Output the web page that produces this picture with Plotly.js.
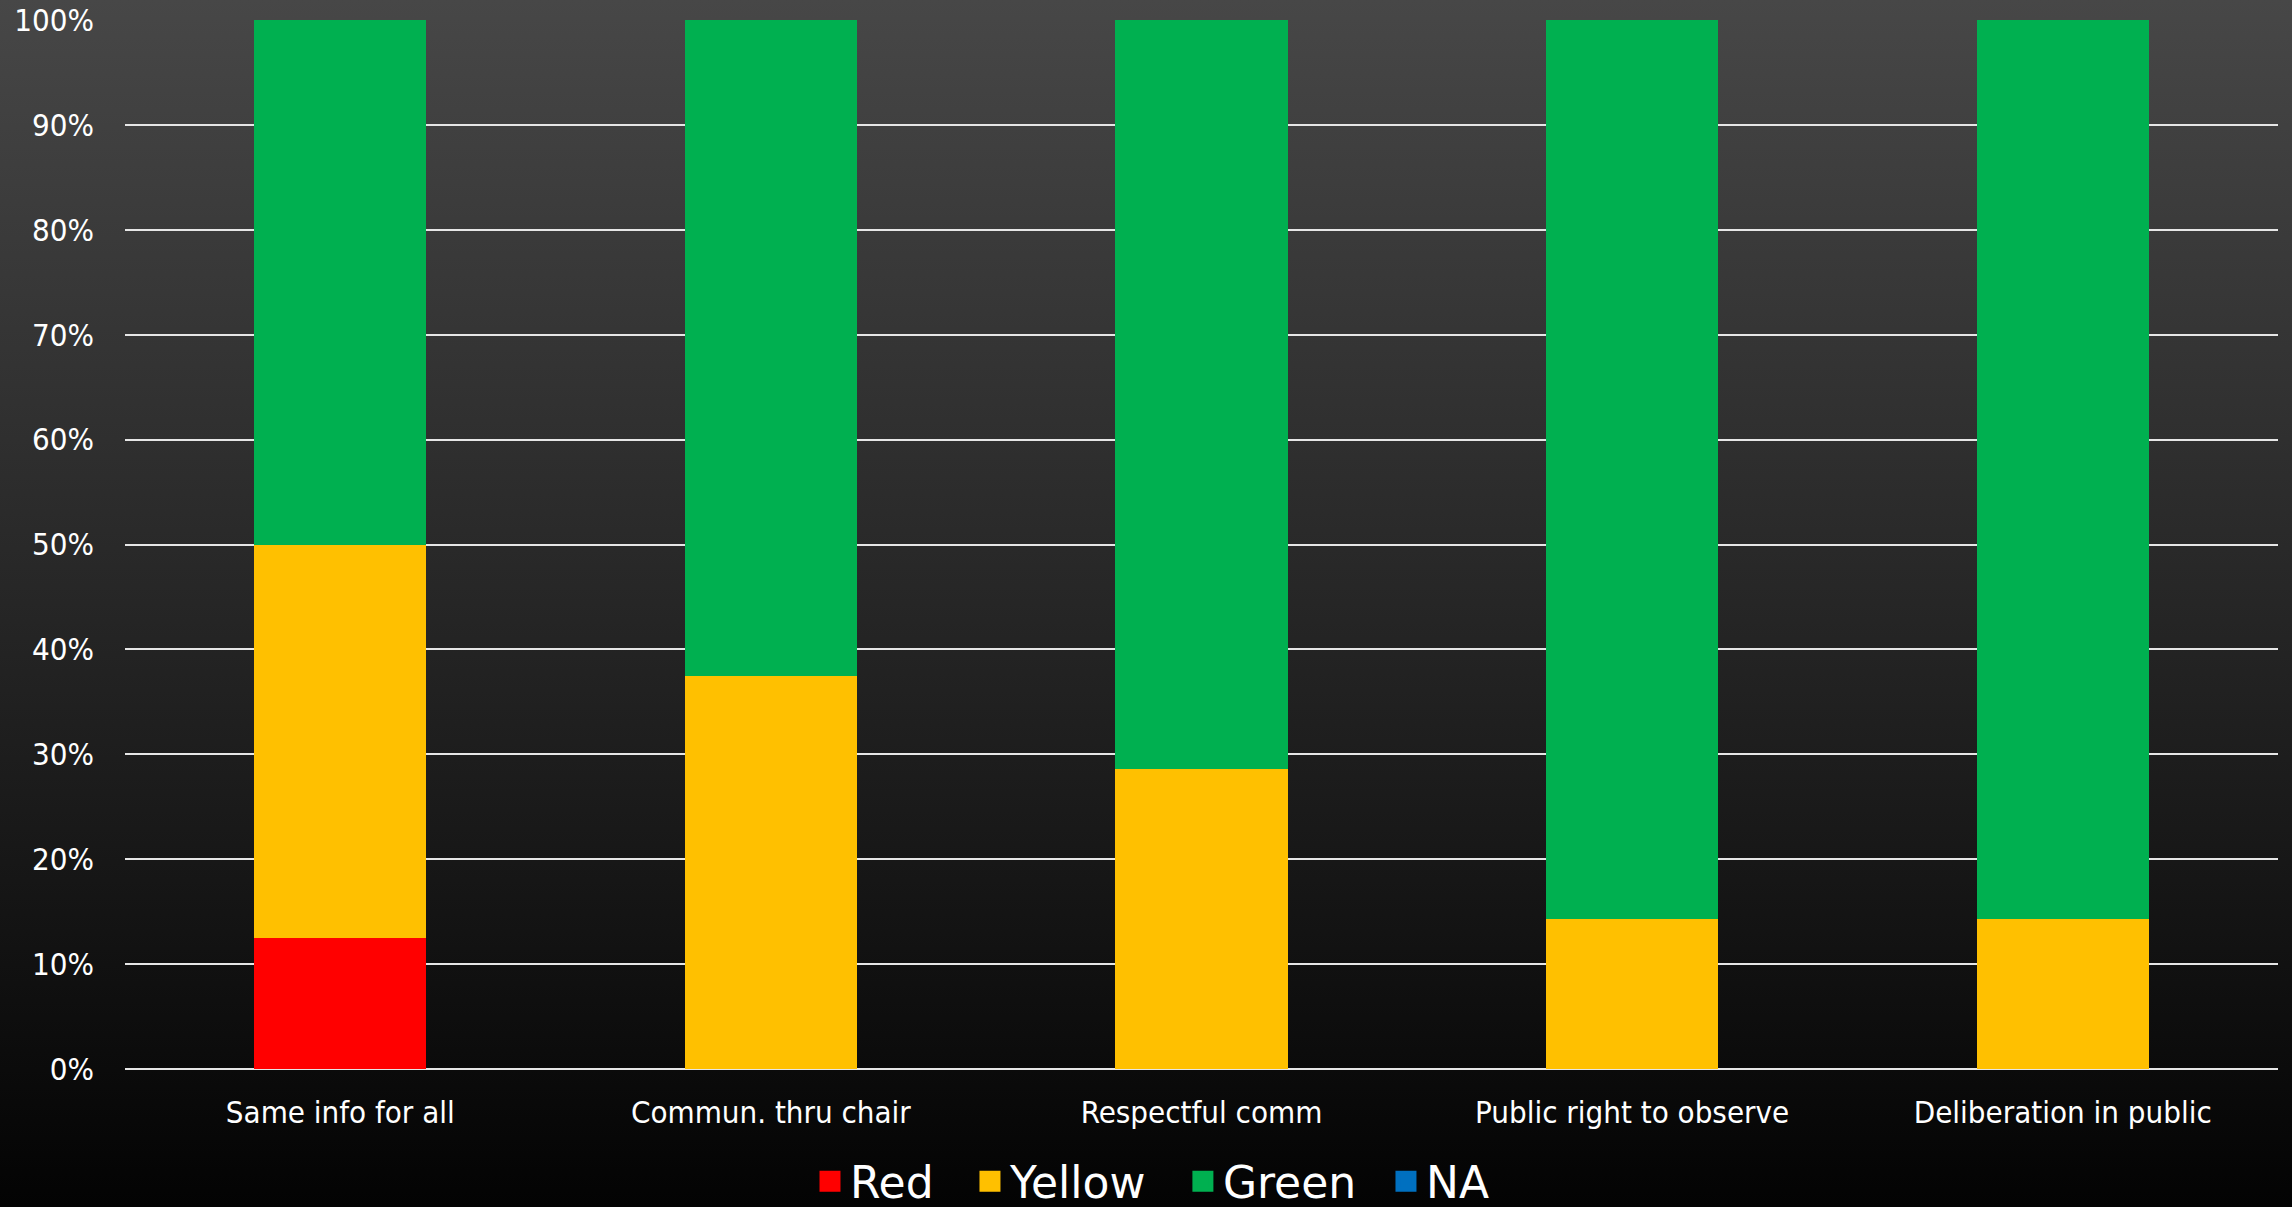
<!DOCTYPE html>
<html>
<head>
<meta charset="utf-8">
<script src="https://cdn.plot.ly/plotly-3.0.1.min.js"></script>
<style>
  html, body { margin: 0; padding: 0; width: 2292px; height: 1207px; overflow: hidden;
    background: linear-gradient(to bottom, #474747 0%, #262626 50%, #030303 100%); }
  #chart { width: 2292px; height: 1207px; }
</style>
</head>
<body>
<div id="chart"></div>
<script>
const categories = ["Same info for all", "Commun. thru chair", "Respectful comm", "Public right to observe", "Deliberation in public"];
const redValues = [12.5, 0, 0, 0, 0];
const yellowValues = [37.5, 37.5, 28.57, 14.29, 14.29];
const greenValues = [50, 62.5, 71.43, 85.71, 85.71];
const naValues = [0, 0, 0, 0, 0];
const seriesNames = ["Red", "Yellow", "Green", "NA"];
const yTickValues = [0, 10, 20, 30, 40, 50, 60, 70, 80, 90, 100];
const yTickText = yTickValues.map(v => v + "%");

const colors = {Red: "#FF0000", Yellow: "#FFC000", Green: "#00B050", NA: "#0070C0"};
const seriesValues = {Red: redValues, Yellow: yellowValues, Green: greenValues, NA: naValues};
const legendIds = {Red: "legend", Yellow: "legend2", Green: "legend3", NA: "legend4"};
const legendX = {Red: 0.3534, Yellow: 0.4232, Green: 0.5161, NA: 0.6047};
const FONT = "'DejaVu Sans Condensed', 'DejaVu Sans', sans-serif";
const LEGEND_FONT = "'DejaVu Sans', sans-serif";

const traces = [];
seriesNames.forEach(name => {
  traces.push({
    type: "bar", name: name, x: categories, y: seriesValues[name],
    marker: {color: colors[name], line: {width: 0}},
    showlegend: false, hoverinfo: "x+y+name"
  });
});
// legend entries (larger swatches), one legend each so spacing can match
seriesNames.forEach(name => {
  traces.push({
    type: "scatter", mode: "markers", name: name, x: [null], y: [null],
    legend: legendIds[name],
    marker: {symbol: "square", size: 16, color: colors[name], line: {width: 5, color: colors[name]}},
    showlegend: true, hoverinfo: "skip"
  });
});

const layout = {
  width: 2292, height: 1207,
  paper_bgcolor: "rgba(0,0,0,0)", plot_bgcolor: "rgba(0,0,0,0)",
  margin: {l: 125, r: 14, t: 20, b: 138, pad: 0},
  barmode: "stack", bargap: 0.6,
  font: {family: FONT, color: "#ffffff", size: 31},
  xaxis: {
    type: "category", showgrid: false, zeroline: false, showline: false,
    ticks: "", tickfont: {family: FONT, size: 31, color: "#ffffff"},
    ticklabelstandoff: 22
  },
  yaxis: {
    range: [0, 100], tickmode: "array", tickvals: yTickValues, ticktext: yTickText,
    showgrid: true, gridcolor: "#e6e6e6", gridwidth: 2,
    zeroline: true, zerolinecolor: "#e6e6e6", zerolinewidth: 2,
    showline: false, ticks: "", ticklabelstandoff: 30,
    tickfont: {family: FONT, size: 31, color: "#ffffff"}
  },
  showlegend: true
};
seriesNames.forEach(name => {
  layout[legendIds[name]] = {
    orientation: "h", xref: "container", x: legendX[name], xanchor: "left",
    yref: "container", y: 0.021, yanchor: "middle",
    font: {family: LEGEND_FONT, size: 44, color: "#ffffff"},
    bgcolor: "rgba(0,0,0,0)", borderwidth: 0, itemwidth: 30
  };
});

Plotly.newPlot("chart", traces, layout, {displayModeBar: false, staticPlot: true});
</script>
</body>
</html>
